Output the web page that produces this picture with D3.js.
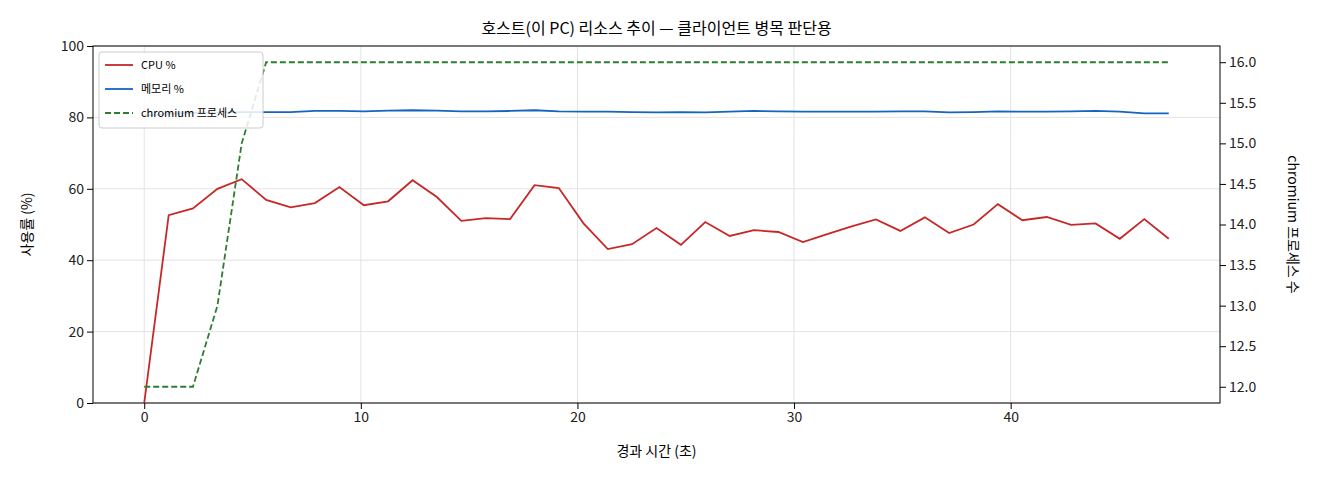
<!DOCTYPE html>
<html>
<head>
<meta charset="UTF-8">
<title>호스트 리소스 추이</title>
<script src="https://d3js.org/d3.v7.min.js"></script>
<style>
body { margin: 0; background: #fff; }
text { font-family: "Noto Sans CJK KR", "Noto Sans", sans-serif; }
</style>
</head>
<body>
<div id="chart"></div>
<script>
// elapsed seconds, one sample every ~1.126 s
const times = [0, 1.13, 2.25, 3.38, 4.5, 5.63, 6.76, 7.88, 9.01, 10.14, 11.26, 12.39, 13.51, 14.64, 15.77, 16.89,
  18.02, 19.14, 20.27, 21.4, 22.52, 23.65, 24.78, 25.9, 27.03, 28.15, 29.28, 30.41, 31.53, 32.66, 33.78, 34.91,
  36.04, 37.16, 38.29, 39.41, 40.54, 41.67, 42.79, 43.92, 45.04, 46.17, 47.3];
const cpu = [0, 52.6, 54.5, 60, 62.7, 56.9, 54.8, 56, 60.5, 55.4, 56.5, 62.4, 57.7, 51, 51.8, 51.5,
  61, 60.2, 50.4, 43.1, 44.5, 49, 44.3, 50.7, 46.8, 48.4, 47.9, 45.1, 47.3, 49.5, 51.4, 48.2,
  52, 47.6, 50, 55.7, 51.2, 52.1, 49.9, 50.3, 46, 51.5, 46];
const mem = [80.5, 81, 81.3, 81.4, 81.5, 81.5, 81.5, 81.8, 81.8, 81.7, 81.9, 82, 81.9, 81.7, 81.7, 81.8,
  82, 81.7, 81.6, 81.6, 81.5, 81.4, 81.5, 81.4, 81.6, 81.8, 81.7, 81.6, 81.6, 81.6, 81.6, 81.7,
  81.7, 81.4, 81.5, 81.7, 81.6, 81.6, 81.7, 81.8, 81.6, 81.1, 81.1];
const procs = [12, 12, 12, 13, 15, 16, 16, 16, 16, 16, 16, 16, 16, 16, 16, 16,
  16, 16, 16, 16, 16, 16, 16, 16, 16, 16, 16, 16, 16, 16, 16, 16,
  16, 16, 16, 16, 16, 16, 16, 16, 16, 16, 16];
const xTicks = [0, 10, 20, 30, 40];
const yTicks = [0, 20, 40, 60, 80, 100];
const y2Ticks = [12, 12.5, 13, 13.5, 14, 14.5, 15, 15.5, 16];

const W = 1320, H = 480;
const m = {left: 93, right: 100, top: 46, bottom: 77};
const svg = d3.select("#chart").append("svg").attr("width", W).attr("height", H);

const x = d3.scaleLinear().domain([-2.365, 49.665]).range([m.left, W - m.right]);
const y = d3.scaleLinear().domain([0, 100]).range([H - m.bottom, m.top]);
const y2 = d3.scaleLinear().domain([11.8, 16.2]).range([H - m.bottom, m.top]);

// grid
svg.append("g").selectAll("line").data(xTicks).join("line")
  .attr("x1", d => x(d)).attr("x2", d => x(d)).attr("y1", m.top).attr("y2", H - m.bottom)
  .attr("stroke", "#e3e3e3");
svg.append("g").selectAll("line").data(yTicks).join("line")
  .attr("y1", d => y(d)).attr("y2", d => y(d)).attr("x1", m.left).attr("x2", W - m.right)
  .attr("stroke", "#e3e3e3");

const fmt2 = d3.format(".1f");
const gx = svg.append("g").attr("transform", `translate(0,${H - m.bottom})`)
  .call(d3.axisBottom(x).tickValues(xTicks).tickSizeOuter(0));
const gy = svg.append("g").attr("transform", `translate(${m.left},0)`)
  .call(d3.axisLeft(y).tickValues(yTicks).tickSizeOuter(0));
const gy2 = svg.append("g").attr("transform", `translate(${W - m.right},0)`)
  .call(d3.axisRight(y2).tickValues(y2Ticks).tickFormat(fmt2).tickSizeOuter(0));
[gx, gy, gy2].forEach(g => {
  g.selectAll("text").attr("font-size", 14).attr("fill", "#222");
  g.selectAll(".domain").remove();
});
svg.append("rect").attr("x", m.left).attr("y", m.top)
  .attr("width", W - m.right - m.left).attr("height", H - m.bottom - m.top)
  .attr("fill", "none").attr("stroke", "#000");

const line = (vals, sc) => d3.line().x((d, i) => x(times[i])).y(d => sc(d))(vals);
svg.append("path").attr("d", line(mem, y)).attr("fill", "none").attr("stroke", "#1565c0").attr("stroke-width", 1.8);
svg.append("path").attr("d", line(cpu, y)).attr("fill", "none").attr("stroke", "#c62828").attr("stroke-width", 1.8);
svg.append("path").attr("d", line(procs, y2)).attr("fill", "none").attr("stroke", "#2e7d32")
  .attr("stroke-width", 1.8).attr("stroke-dasharray", "6,3");

// titles
svg.append("text").attr("x", (m.left + W - m.right) / 2).attr("y", 34).attr("text-anchor", "middle")
  .attr("font-size", 16).text("호스트(이 PC) 리소스 추이 — 클라이언트 병목 판단용");
svg.append("text").attr("x", (m.left + W - m.right) / 2).attr("y", 456).attr("text-anchor", "middle")
  .attr("font-size", 14).text("경과 시간 (초)");
svg.append("text").attr("transform", `translate(32,${(m.top + H - m.bottom) / 2}) rotate(-90)`)
  .attr("text-anchor", "middle").attr("font-size", 14).text("사용률 (%)");
svg.append("text").attr("transform", `translate(1288,${(m.top + H - m.bottom) / 2}) rotate(90)`)
  .attr("text-anchor", "middle").attr("font-size", 14).text("chromium 프로세스 수");

// legend
const leg = svg.append("g").attr("transform", "translate(99,52)");
leg.append("rect").attr("width", 164).attr("height", 76).attr("rx", 3)
  .attr("fill", "rgba(255,255,255,0.85)").attr("stroke", "#ccc");
const items = [
  {label: "CPU %", color: "#c62828", dash: null},
  {label: "메모리 %", color: "#1565c0", dash: null},
  {label: "chromium 프로세스", color: "#2e7d32", dash: "6,3"}
];
items.forEach((it, i) => {
  const yy = 13 + i * 24;
  leg.append("line").attr("x1", 6).attr("x2", 34).attr("y1", yy).attr("y2", yy)
    .attr("stroke", it.color).attr("stroke-width", 1.8).attr("stroke-dasharray", it.dash);
  leg.append("text").attr("x", 42).attr("y", yy + 4).attr("font-size", 11).text(it.label);
});
</script>
</body>
</html>
